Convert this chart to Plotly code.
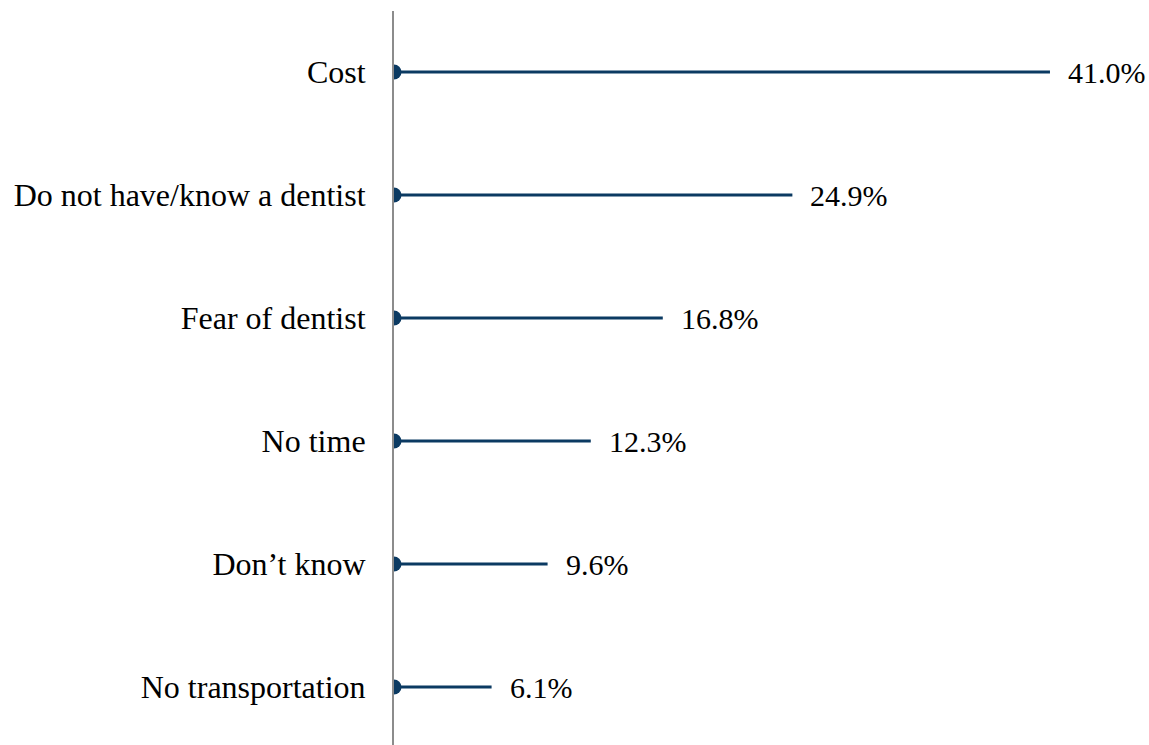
import plotly.graph_objects as go

categories = ["Cost", "Do not have/know a dentist", "Fear of dentist", "No time",
              "Don\u2019t know", "No transportation"]
values = [41.0, 24.9, 16.8, 12.3, 9.6, 6.1]
value_labels = ["41.0%", "24.9%", "16.8%", "12.3%", "9.6%", "6.1%"]

NAVY = "#0B3A62"
FONT = "Liberation Serif, Times New Roman, serif"

fig = go.Figure()
for cat, v in zip(categories, values):
    fig.add_trace(go.Scatter(
        x=[0, v], y=[cat, cat], mode="lines",
        line=dict(color=NAVY, width=3), showlegend=False, hoverinfo="skip"))
fig.add_trace(go.Scatter(
    x=[0] * len(categories), y=categories, mode="markers",
    marker=dict(color=NAVY, size=15), showlegend=False, cliponaxis=True))

for cat, v, lab in zip(categories, values, value_labels):
    fig.add_annotation(x=v, y=cat, text=lab, showarrow=False, xanchor="left",
                       xshift=16, font=dict(family=FONT, size=30, color="#000000"))

fig.update_layout(
    width=1149, height=745,
    margin=dict(l=394, r=0, t=11, b=0),
    paper_bgcolor="white", plot_bgcolor="white",
    font=dict(family=FONT, size=32, color="#000000"),
    xaxis=dict(range=[0, 47.19], showgrid=False, zeroline=False, showline=False,
               showticklabels=False, ticks=""),
    yaxis=dict(type="category", categoryorder="array", categoryarray=categories,
               range=[5.471, -0.496], showgrid=False, zeroline=False,
               showline=True, linecolor="#8C8C8C", linewidth=2, ticks="",
               ticklabelstandoff=20, tickfont=dict(family=FONT, size=32, color="#000000")),
)

fig.write_html(
    "out.html",
    config={"displayModeBar": False},
    post_script="document.body.style.margin='0';document.body.style.overflow='hidden';",
)
